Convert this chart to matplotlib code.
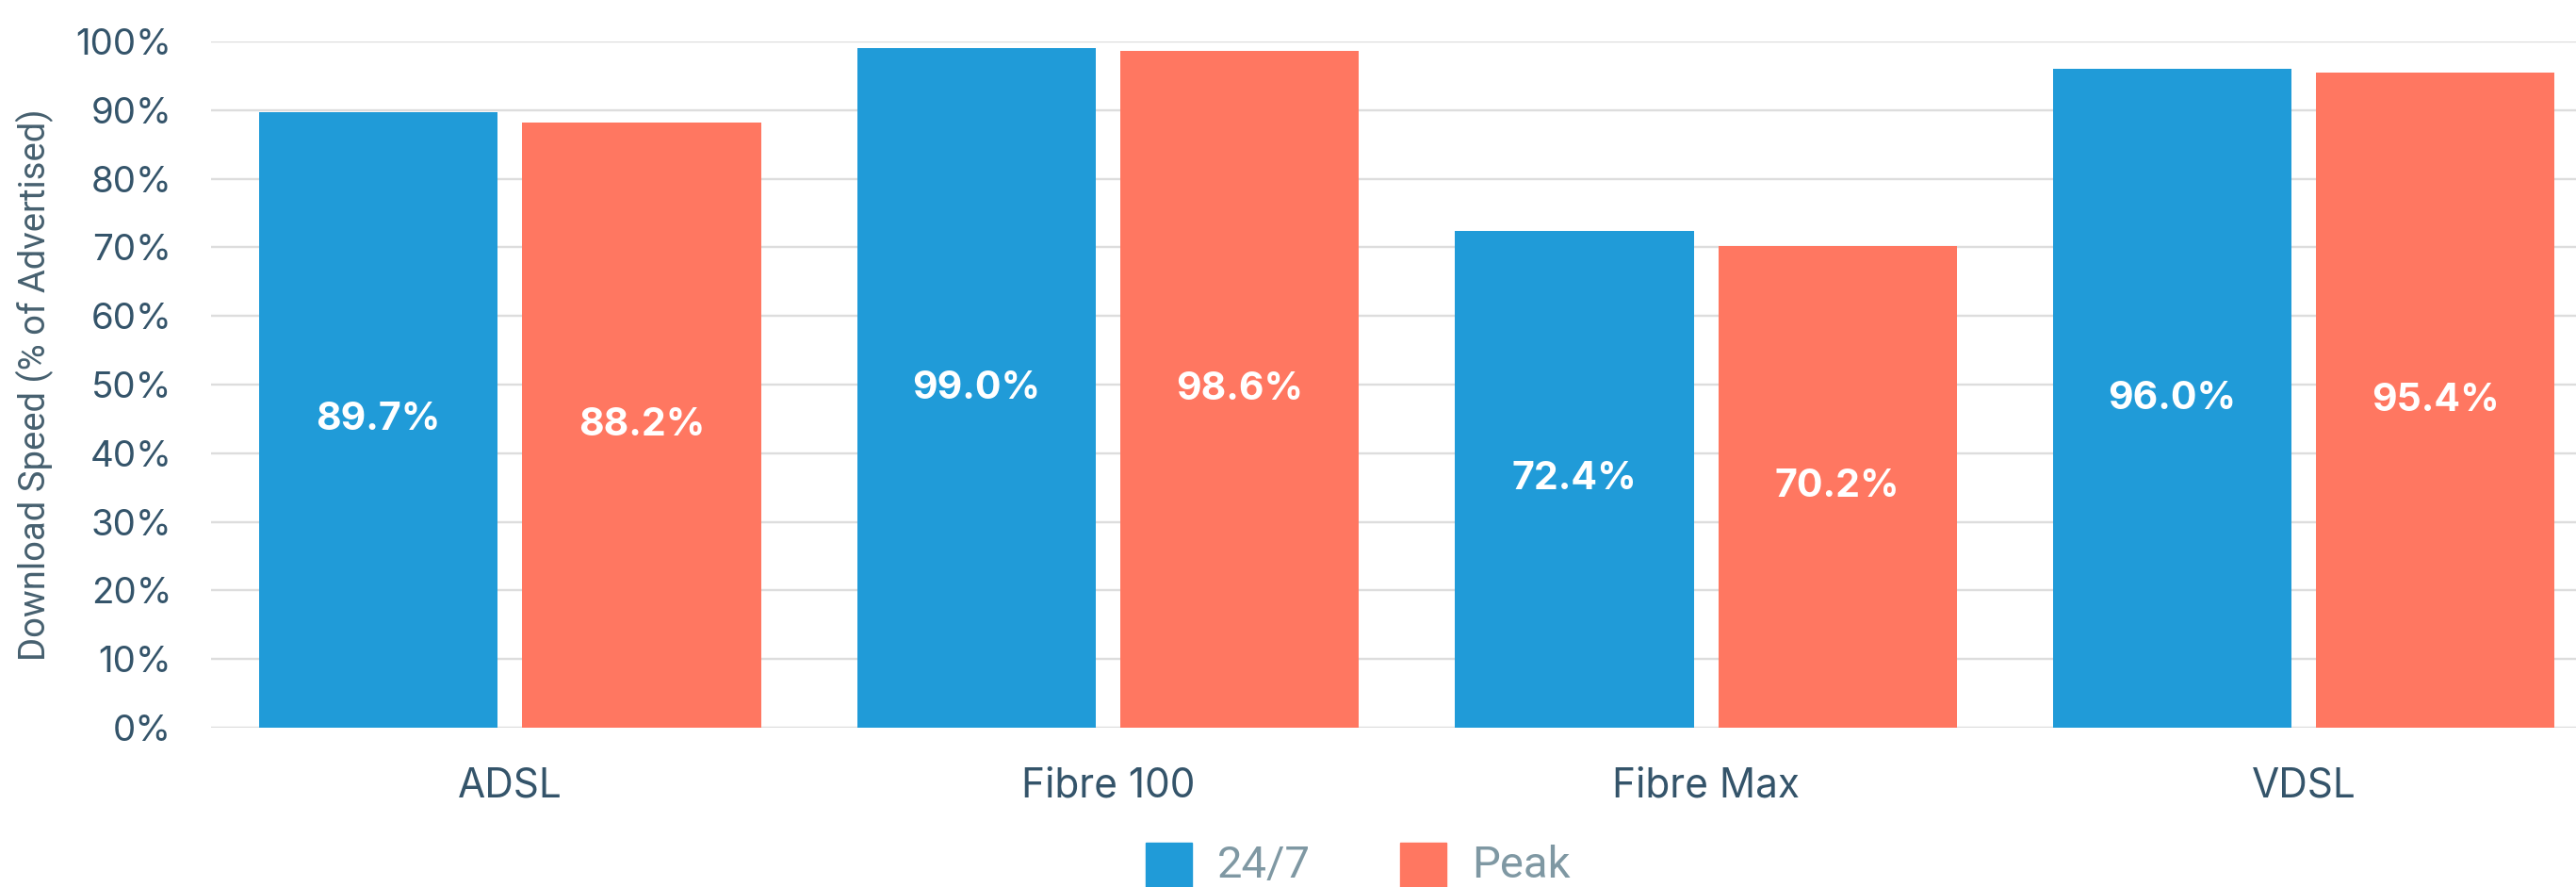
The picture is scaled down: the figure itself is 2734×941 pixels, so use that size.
import numpy as np
import matplotlib.pyplot as plt
from matplotlib.patches import Rectangle

categories = ["ADSL", "Fibre 100", "Fibre Max", "VDSL"]
series_names = ["24/7", "Peak"]
speed_247 = [89.7, 99.0, 72.4, 96.0]
speed_peak = [88.2, 98.6, 70.2, 95.4]
yticks = [0, 10, 20, 30, 40, 50, 60, 70, 80, 90, 100]

BLUE = "#209BD8"
SALMON = "#FF7761"
DARK = "#34546A"
GREY_TEXT = "#7F98A3"
GRID = "#DDDDDD"

W, H = 2734, 941
fig = plt.figure(figsize=(W / 100, H / 100), dpi=100)
ax = fig.add_axes([224 / W, 169 / H, 1 - 224 / W, 728 / H])

x = np.arange(len(categories))
w = 0.399
off = 0.22

b1 = ax.bar(x - off, speed_247, w, color=BLUE, zorder=3)
b2 = ax.bar(x + off, speed_peak, w, color=SALMON, zorder=3)

# value labels sit in the middle of each bar
for bars, vals in ((b1, speed_247), (b2, speed_peak)):
    for rect, v in zip(bars, vals):
        ax.text(rect.get_x() + rect.get_width() / 2, v / 2, f"{v:.1f}%",
                ha="center", va="center", color="white", fontsize=29.5,
                fontweight="bold", family="Inter", zorder=4)

ax.set_xlim(-0.5, 3.455)
ax.set_ylim(0, 100)
ax.set_yticks(yticks)
ax.set_yticklabels([f"{t}%" for t in yticks], family="Inter", fontsize=27.7, color=DARK)
ax.set_xticks(x)
ax.set_xticklabels(categories, family="Inter", fontsize=30.5, color=DARK)
ax.tick_params(axis="y", length=0, pad=30)
ax.tick_params(axis="x", length=0, pad=30)

ax.grid(axis="y", color=GRID, linewidth=1.7, zorder=0)
for s in ax.spines.values():
    s.set_visible(False)

ax.set_ylabel("Download Speed (% of Advertised)", family="Roboto",
              fontsize=27.5, color="#46606F")
ax.yaxis.set_label_coords((57 - 224) / (W - 224), 0.5)

# legend drawn by hand: square swatch + label, centred under the chart
legend_x = [1216, 1486]
for name, col, lx in zip(series_names, [BLUE, SALMON], legend_x):
    fig.add_artist(Rectangle((lx / W, -2 / H), 49 / W, 49 / H, color=col,
                             transform=fig.transFigure))
    fig.text((lx + 76) / W, 10 / H, name, family="Roboto",
             fontsize=34, color=GREY_TEXT, ha="left", va="baseline")

fig.savefig("out.png", dpi=100)
